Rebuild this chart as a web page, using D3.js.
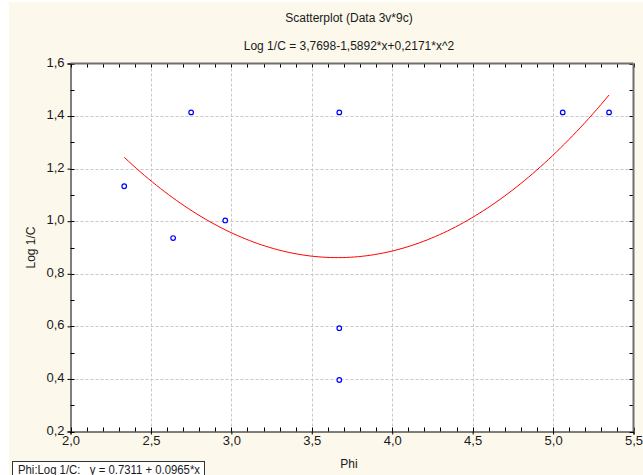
<!DOCTYPE html>
<html>
<head>
<meta charset="utf-8">
<script src="https://cdn.jsdelivr.net/npm/d3@7"></script>
<style>
  html, body { margin: 0; padding: 0; background: #ffffff; }
  svg { display: block; font-family: "Liberation Sans", Arial, sans-serif; }
</style>
</head>
<body>
<svg id="chart" width="643" height="475"></svg>
<script>
// Observations: Phi against Log 1/C
const phi  = [2.334, 2.638, 2.750, 2.962, 3.671, 3.671, 3.671, 5.060, 5.348];
const logC = [1.133, 0.936, 1.414, 1.003, 1.414, 0.593, 0.396, 1.414, 1.414];

// Quadratic fit coefficients: a + b*x + c*x^2
const fitCoef = [3.7698, -1.5892, 0.2171];

const xTicks = [2.0, 2.5, 3.0, 3.5, 4.0, 4.5, 5.0, 5.5];
const yTicks = [0.2, 0.4, 0.6, 0.8, 1.0, 1.2, 1.4, 1.6];

const titleText = "Scatterplot (Data 3v*9c)";
const subtitleText = "Log 1/C = 3,7698-1,5892*x+0,2171*x^2";
const legendText = "Phi:Log 1/C:   y = 0.7311 + 0.0965*x";

const svg = d3.select("#chart");
const W = 643, H = 475;
const plot = { left: 70.5, right: 633.5, top: 63.5, bottom: 431.5 };

const x = d3.scaleLinear().domain([2.0, 5.5]).range([plot.left, plot.right]);
const y = d3.scaleLinear().domain([0.2, 1.6]).range([plot.bottom, plot.top]);
const fmt = v => d3.format(".1f")(v).replace(".", ",");

// page background
svg.append("rect").attr("x", 9).attr("y", 2).attr("width", W - 9).attr("height", H - 2)
  .attr("fill", "#fcf8ec");

// plot area
svg.append("rect")
  .attr("x", plot.left).attr("y", plot.top)
  .attr("width", plot.right - plot.left).attr("height", plot.bottom - plot.top)
  .attr("fill", "#ffffff");

// dashed grid
const grid = svg.append("g").attr("stroke", "#c8c8c8").attr("stroke-dasharray", "3,2").attr("stroke-width", 1);
xTicks.slice(1, -1).forEach(t => {
  grid.append("line").attr("x1", Math.round(x(t)) + 0.5).attr("x2", Math.round(x(t)) + 0.5)
    .attr("y1", plot.top).attr("y2", plot.bottom);
});
yTicks.slice(1, -1).forEach(t => {
  grid.append("line").attr("y1", Math.round(y(t)) + 0.5).attr("y2", Math.round(y(t)) + 0.5)
    .attr("x1", plot.left).attr("x2", plot.right);
});

// minor ticks pointing into the plot on all four sides
const minorX = d3.range(20, 56).map(v => v / 10);
const minorY = d3.range(2, 17).map(v => v / 10);
const ticks = svg.append("g").attr("stroke", "#000").attr("stroke-width", 1);
minorX.forEach(t => {
  const px = Math.round(x(t)) + 0.5;
  ticks.append("line").attr("x1", px).attr("x2", px).attr("y1", plot.bottom).attr("y2", plot.bottom - 4);
  ticks.append("line").attr("x1", px).attr("x2", px).attr("y1", plot.top).attr("y2", plot.top + 4);
});
minorY.forEach(t => {
  const py = Math.round(y(t)) + 0.5;
  ticks.append("line").attr("y1", py).attr("y2", py).attr("x1", plot.left).attr("x2", plot.left + 4);
  ticks.append("line").attr("y1", py).attr("y2", py).attr("x1", plot.right).attr("x2", plot.right - 4);
});

// frame: grey top/right, black left/bottom
svg.append("line").attr("x1", plot.left).attr("x2", plot.right).attr("y1", plot.top).attr("y2", plot.top)
  .attr("stroke", "#6e6e6e").attr("stroke-width", 2);
svg.append("line").attr("x1", plot.right).attr("x2", plot.right).attr("y1", plot.top).attr("y2", plot.bottom)
  .attr("stroke", "#6e6e6e").attr("stroke-width", 2);

// axes
const xAxis = d3.axisBottom(x).tickValues(xTicks).tickFormat(fmt).tickSize(3).tickPadding(1);
const yAxis = d3.axisLeft(y).tickValues(yTicks).tickFormat(fmt).tickSize(3).tickPadding(3);

const gx = svg.append("g").attr("transform", `translate(0,${plot.bottom})`).call(xAxis);
const gy = svg.append("g").attr("transform", `translate(${plot.left},0)`).call(yAxis);
[gx, gy].forEach(g => {
  g.select(".domain").attr("stroke", "#000");
  g.selectAll(".tick line").attr("stroke", "#000");
  g.selectAll("text").attr("fill", "#1a1a1a").style("font-size", "13px")
    .style("font-family", "'Liberation Sans', Arial, sans-serif");
});
gy.selectAll(".tick text").attr("dy", "0.2em");

// fitted quadratic over the observed range
const fx = v => fitCoef[0] + fitCoef[1] * v + fitCoef[2] * v * v;
const xs = d3.range(0, 121).map(i => d3.min(phi) + (d3.max(phi) - d3.min(phi)) * i / 120);
svg.append("path")
  .datum(xs)
  .attr("fill", "none").attr("stroke", "#ff0000").attr("stroke-width", 1)
  .attr("d", d3.line().x(d => x(d)).y(d => y(fx(d))));

// observations
svg.append("g").selectAll("circle")
  .data(phi.map((p, i) => [p, logC[i]]))
  .join("circle")
  .attr("cx", d => x(d[0])).attr("cy", d => y(d[1])).attr("r", 2.3)
  .attr("fill", "#ffffff").attr("stroke", "#0000ff").attr("stroke-width", 1.2);

// titles
svg.append("text").attr("x", 349).attr("y", 22).attr("text-anchor", "middle")
  .style("font-size", "12px").attr("fill", "#1a1a1a").text(titleText);
svg.append("text").attr("x", 349).attr("y", 50).attr("text-anchor", "middle")
  .style("font-size", "12px").attr("fill", "#1a1a1a").text(subtitleText);

// axis titles
svg.append("text").attr("x", 349).attr("y", 468).attr("text-anchor", "middle")
  .style("font-size", "12px").attr("fill", "#1a1a1a").text("Phi");
svg.append("text").attr("transform", `translate(35,${(plot.top + plot.bottom) / 2}) rotate(-90)`)
  .attr("text-anchor", "middle").style("font-size", "12px").attr("fill", "#1a1a1a").text("Log 1/C");

// legend box
const lg = svg.append("g");
lg.append("rect").attr("x", 12.5).attr("y", 461.5).attr("width", 192).attr("height", 20)
  .attr("fill", "#ffffff").attr("stroke", "#333").attr("stroke-width", 1);
lg.append("text").attr("x", 18).attr("y", 474).style("font-size", "12px").attr("fill", "#1a1a1a")
  .attr("textLength", 182).attr("lengthAdjust", "spacingAndGlyphs")
  .style("white-space", "pre").text(legendText);
</script>
</body>
</html>
